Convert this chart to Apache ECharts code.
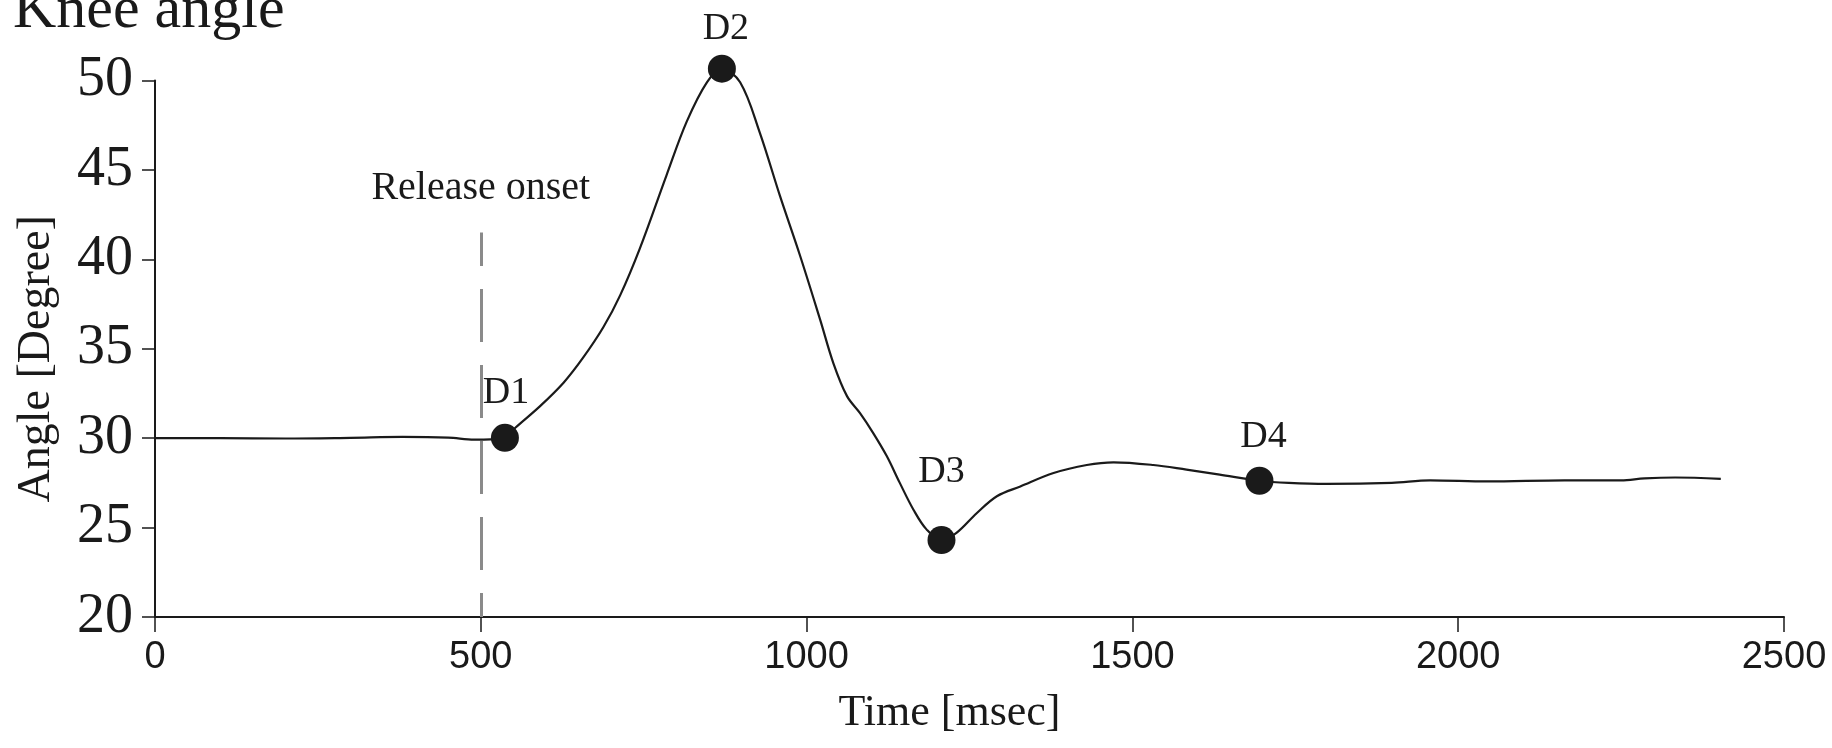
<!DOCTYPE html>
<html>
<head>
<meta charset="utf-8">
<script src="https://cdn.jsdelivr.net/npm/echarts@6/dist/echarts.min.js"></script>
<style>
  html, body { margin: 0; padding: 0; background: #ffffff; }
  #chart { width: 1832px; height: 748px; }
</style>
</head>
<body>
<div id="chart"></div>
<script>
// ---- data ----
const times = [0, 100, 200, 300, 380, 450, 490, 515, 537, 553, 591, 627, 657, 688, 714, 744, 785, 816, 847, 870, 898, 928, 959, 990, 1021, 1041, 1062, 1082, 1102, 1123, 1143, 1164, 1184, 1207, 1230, 1261, 1292, 1328, 1379, 1430, 1471, 1532, 1583, 1634, 1695, 1740, 1798, 1898, 1957, 2045, 2163, 2250, 2286, 2333, 2403];
const angles = [30.0, 30.0, 29.98, 30.02, 30.07, 30.03, 29.92, 29.93, 30.02, 30.58, 31.79, 33.1, 34.5, 36.2, 38.0, 40.6, 44.7, 47.7, 49.9, 50.66, 49.9, 47.1, 43.56, 40.2, 36.6, 34.2, 32.35, 31.4, 30.3, 29.0, 27.5, 26.0, 24.9, 24.3, 24.7, 25.8, 26.75, 27.3, 28.05, 28.5, 28.65, 28.5, 28.24, 27.96, 27.62, 27.5, 27.44, 27.5, 27.64, 27.58, 27.64, 27.64, 27.75, 27.8, 27.72];

const eventNames = ['D1', 'D2', 'D3', 'D4'];
const eventTimes = [537, 870, 1207, 1695];
const eventAngles = [30.02, 50.66, 24.3, 27.62];

const releaseOnsetTime = 500;
const releaseLineTop = 41.5;

const xTicks = { min: 0, max: 2500, interval: 500 };
const yTicks = { min: 20, max: 50, interval: 5 };

// ---- styling (not data) ----
const serif = "'Liberation Serif', 'Times New Roman', serif";
const narrow = "'Liberation Sans Narrow', 'Arial Narrow', 'Liberation Sans', sans-serif";
const ink = '#1a1a1a';
const labelShift = { D1: [1, -45], D2: [4, -40], D3: [0, -68], D4: [4, -44] };

const chart = echarts.init(document.getElementById('chart'), null, { renderer: 'canvas' });

chart.setOption({
  animation: false,
  backgroundColor: '#ffffff',
  title: {
    text: 'Knee angle',
    left: 13,
    top: -19,
    padding: 0,
    textStyle: { fontFamily: serif, fontSize: 60, fontWeight: 'normal', color: ink }
  },
  grid: { left: 155, right: 48, top: 80.5, bottom: 131, containLabel: false },
  xAxis: {
    type: 'value',
    min: xTicks.min, max: xTicks.max, interval: xTicks.interval,
    name: 'Time [msec]',
    nameLocation: 'middle',
    nameGap: 74,
    nameTextStyle: { fontFamily: serif, fontSize: 44, color: ink, padding: [0, 40, 0, 0] },
    axisLine: { show: true, onZero: false, lineStyle: { color: ink, width: 2 } },
    axisTick: { show: true, length: 15, lineStyle: { color: ink, width: 1.5 } },
    axisLabel: { fontFamily: narrow, fontSize: 38, color: ink, margin: 22, formatter: v => String(v) },
    splitLine: { show: false }
  },
  yAxis: {
    type: 'value',
    min: yTicks.min, max: yTicks.max, interval: yTicks.interval,
    name: 'Angle [Degree]',
    nameLocation: 'middle',
    nameGap: 95,
    nameTextStyle: { fontFamily: serif, fontSize: 46, color: ink, padding: [0, 20, 0, 0] },
    axisLine: { show: true, lineStyle: { color: ink, width: 2 } },
    axisTick: { show: true, length: 13, lineStyle: { color: ink, width: 1.5 } },
    axisLabel: { fontFamily: serif, fontSize: 56, color: ink, margin: 22 },
    splitLine: { show: false }
  },
  series: [
    {
      type: 'line',
      data: times.map((t, i) => [t, angles[i]]),
      smooth: 0.35,
      clip: false,
      showSymbol: false,
      lineStyle: { color: ink, width: 2.2 },
      z: 2,
      markLine: {
        silent: true,
        symbol: 'none',
        lineStyle: { color: '#8a8a8a', width: 3, type: [53, 23], dashOffset: 29 },
        label: {
          show: true,
          position: 'end',
          distance: 24,
          formatter: 'Release onset',
          fontFamily: serif,
          fontSize: 40,
          color: ink
        },
        data: [[
          { coord: [releaseOnsetTime, yTicks.min] },
          { coord: [releaseOnsetTime, releaseLineTop] }
        ]]
      }
    },
    {
      type: 'scatter',
      clip: false,
      data: eventNames.map((n, i) => ({
        name: n,
        value: [eventTimes[i], eventAngles[i]],
        label: { offset: labelShift[n] }
      })),
      symbol: 'circle',
      symbolSize: 28,
      itemStyle: { color: ink, opacity: 1 },
      z: 3,
      label: {
        show: true,
        position: 'inside',
        formatter: p => p.name,
        fontFamily: serif,
        fontSize: 38,
        color: ink,
        opacity: 1
      }
    }
  ]
});
</script>
</body>
</html>
